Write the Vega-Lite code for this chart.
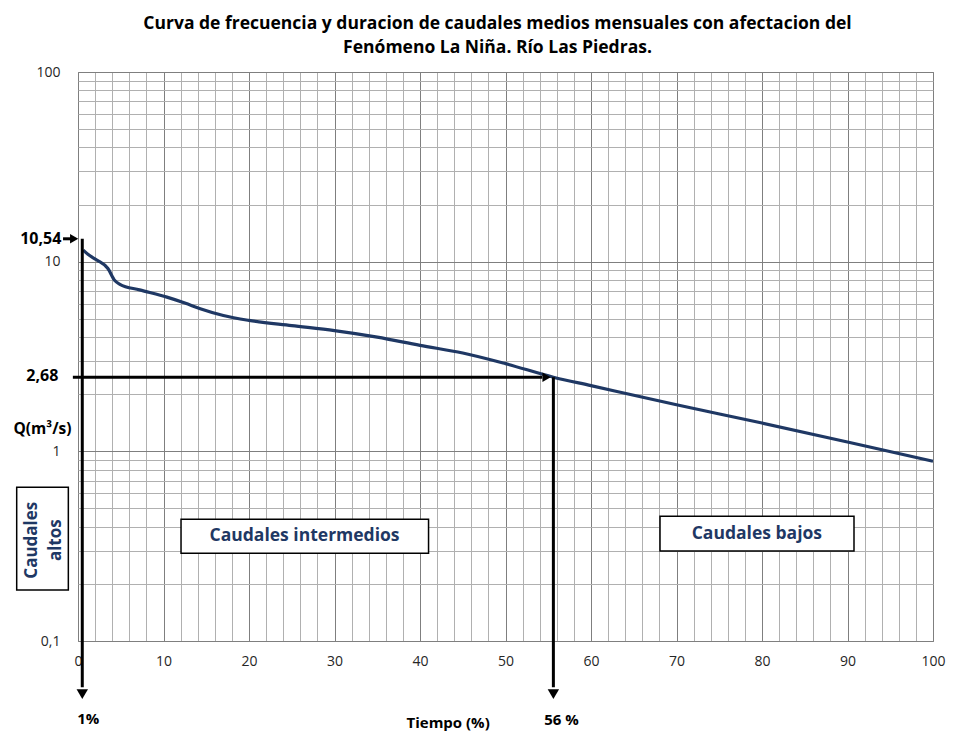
{
  "$schema": "https://vega.github.io/schema/vega-lite/v6.json",
  "width": 855,
  "height": 569,
  "autosize": {"type": "none"},
  "padding": {"left": 78, "top": 72, "right": 42, "bottom": 93},
  "background": "white",
  "title": {
    "text": ["Curva de frecuencia y duracion  de caudales medios mensuales con afectacion del", "Fenómeno La Niña. Río Las Piedras."],
    "font": "Open Sans",
    "fontSize": 17.5,
    "fontWeight": "bold",
    "color": "#000000",
    "anchor": "middle",
    "dx": -8,
    "offset": 9,
    "lineHeight": 24
  },
  "config": {
    "view": {"stroke": "#7f7f7f", "strokeWidth": 1},
    "font": "Open Sans"
  },
  "datasets": {
    "curve": [
      {"x": 0.6, "q": 11.5},
      {"x": 1.2, "q": 10.9},
      {"x": 2.2, "q": 10.2},
      {"x": 3.5, "q": 9.2},
      {"x": 4.3, "q": 7.95},
      {"x": 4.9, "q": 7.6},
      {"x": 7.2, "q": 7.1},
      {"x": 10.4, "q": 6.5},
      {"x": 12.5, "q": 6.05},
      {"x": 14.3, "q": 5.65},
      {"x": 17, "q": 5.2},
      {"x": 20, "q": 4.9},
      {"x": 25, "q": 4.6},
      {"x": 30, "q": 4.33},
      {"x": 35, "q": 4.0},
      {"x": 40, "q": 3.62},
      {"x": 45, "q": 3.3},
      {"x": 50, "q": 2.9},
      {"x": 55.6, "q": 2.46},
      {"x": 60, "q": 2.22},
      {"x": 70, "q": 1.76},
      {"x": 80, "q": 1.41},
      {"x": 90, "q": 1.12},
      {"x": 100, "q": 0.886}
    ],
    "vlines": [
      {"x": 0.5, "q": 13.2, "q2": 0.057},
      {"x": 55.6, "q": 2.46, "q2": 0.057}
    ],
    "hlines": [
      {"x": -1.75, "x2": -0.6, "q": 13.2},
      {"x": -0.6, "x2": 54.3, "q": 2.46}
    ],
    "arrowsDown": [
      {"x": 0.5, "q": 0.0525},
      {"x": 55.6, "q": 0.0525}
    ],
    "arrowsRight": [
      {"x": -0.45, "q": 13.2},
      {"x": 54.8, "q": 2.46}
    ],
    "leftLabels": [
      {"x": -1.95, "q": 13.2, "label": "10,54"},
      {"x": -2.3, "q": 2.5, "label": "2,68"}
    ],
    "bottomLabels": [
      {"x": 1.2, "q": 0.0389, "label": "1%"},
      {"x": 56.55, "q": 0.0385, "label": "56 %"}
    ],
    "boxes": [
      {"x": 12.05, "x2": 41.0, "q": 0.4385, "q2": 0.2904},
      {"x": 68.07, "x2": 90.76, "q": 0.455, "q2": 0.298},
      {"x": -7.17, "x2": -1.13, "q": 0.647, "q2": 0.1855}
    ],
    "boxText": [
      {"x": 26.5, "q": 0.357, "label": "Caudales intermedios"},
      {"x": 79.4, "q": 0.368, "label": "Caudales bajos"}
    ],
    "sideText": [
      {"x": -5.35, "q": 0.34, "label": ["Caudales", "altos"]}
    ]
  },
  "layer": [
    {
      "data": {"name": "curve"},
      "mark": {"type": "line", "color": "#1F3864", "strokeWidth": 3.2, "interpolate": "monotone", "clip": false},
      "encoding": {
        "x": {
          "field": "x", "type": "quantitative",
          "scale": {"domain": [0, 100], "nice": false, "zero": false},
          "axis": {
            "values": [0,2,4,6,8,10,12,14,16,18,20,22,24,26,28,30,32,34,36,38,40,42,44,46,48,50,52,54,56,58,60,62,64,66,68,70,72,74,76,78,80,82,84,86,88,90,92,94,96,98,100],
            "tickCount": 500,
            "format": "d",
            "labelExpr": "datum.value % 10 === 0 ? datum.label : ''",
            "labelOverlap": false,
            "labelFlush": false,
            "labelFont": "Open Sans",
            "labelFontSize": 14,
            "labelColor": "#262626",
            "labelPadding": 13,
            "ticks": false,
            "domain": false,
            "grid": true,
            "gridColor": {"condition": {"test": "datum.value % 10 === 0", "value": "#7f7f7f"}, "value": "#b0b0b0"},
            "gridOpacity": 1,
            "gridWidth": 1,
            "title": "Tiempo (%)",
            "titleFont": "Open Sans",
            "titleFontSize": 15,
            "titleFontWeight": "bold",
            "titleColor": "#000000",
            "titleAnchor": "start",
            "titleX": 328,
            "titleY": 81,
            "titleBaseline": "middle"
          }
        },
        "y": {
          "field": "q", "type": "quantitative",
          "scale": {"type": "log", "domain": [0.1, 100], "nice": false, "zero": false},
          "axis": {
            "values": [0.1,0.2,0.3,0.4,0.5,0.6,0.7,0.8,0.9,1,2,3,4,5,6,7,8,9,10,20,30,40,50,60,70,80,90,100],
            "tickCount": 500,
            "labelExpr": "datum.value === 0.1 ? '0,1' : (datum.value === 1 || datum.value === 10 || datum.value === 100 ? datum.label : '')",
            "labelOverlap": false,
            "labelFlush": false,
            "labelFont": "Open Sans",
            "labelFontSize": 14,
            "labelColor": "#262626",
            "labelPadding": 18,
            "ticks": false,
            "domain": false,
            "grid": true,
            "gridColor": {"condition": {"test": "datum.value === 0.1 || datum.value === 1 || datum.value === 10 || datum.value === 100", "value": "#7f7f7f"}, "value": "#b0b0b0"},
            "gridOpacity": 1,
            "gridWidth": 1,
            "title": "Q(m³/s)",
            "titleFont": "Open Sans",
            "titleFontSize": 15.5,
            "titleFontWeight": "bold",
            "titleColor": "#000000",
            "titleAngle": 0,
            "titleAlign": "left",
            "titleX": -65,
            "titleY": 356,
            "titleBaseline": "middle"
          }
        }
      }
    },
    {
      "data": {"name": "vlines"},
      "mark": {"type": "rule", "color": "#000000", "strokeWidth": 3, "clip": false},
      "encoding": {
        "x": {"field": "x", "type": "quantitative"},
        "y": {"field": "q", "type": "quantitative"},
        "y2": {"field": "q2"}
      }
    },
    {
      "data": {"name": "hlines"},
      "mark": {"type": "rule", "color": "#000000", "strokeWidth": 3, "clip": false},
      "encoding": {
        "x": {"field": "x", "type": "quantitative"},
        "x2": {"field": "x2"},
        "y": {"field": "q", "type": "quantitative"}
      }
    },
    {
      "data": {"name": "arrowsDown"},
      "mark": {"type": "point", "shape": "triangle-down", "filled": true, "color": "#000000", "size": 130, "opacity": 1, "clip": false},
      "encoding": {
        "x": {"field": "x", "type": "quantitative"},
        "y": {"field": "q", "type": "quantitative"}
      }
    },
    {
      "data": {"name": "arrowsRight"},
      "mark": {"type": "point", "shape": "triangle-right", "filled": true, "color": "#000000", "size": 90, "opacity": 1, "clip": false},
      "encoding": {
        "x": {"field": "x", "type": "quantitative"},
        "y": {"field": "q", "type": "quantitative"}
      }
    },
    {
      "data": {"name": "leftLabels"},
      "mark": {"type": "text", "font": "Open Sans", "fontSize": 16, "fontWeight": "bold", "color": "#000000", "baseline": "middle", "align": "right", "clip": false},
      "encoding": {
        "x": {"field": "x", "type": "quantitative"},
        "y": {"field": "q", "type": "quantitative"},
        "text": {"field": "label"}
      }
    },
    {
      "data": {"name": "bottomLabels"},
      "mark": {"type": "text", "font": "Open Sans", "fontSize": 15, "fontWeight": "bold", "color": "#000000", "baseline": "middle", "align": "center", "clip": false},
      "encoding": {
        "x": {"field": "x", "type": "quantitative"},
        "y": {"field": "q", "type": "quantitative"},
        "text": {"field": "label"}
      }
    },
    {
      "data": {"name": "boxes"},
      "mark": {"type": "rect", "fill": "white", "stroke": "#000000", "strokeWidth": 1.5, "clip": false},
      "encoding": {
        "x": {"field": "x", "type": "quantitative"},
        "x2": {"field": "x2"},
        "y": {"field": "q", "type": "quantitative"},
        "y2": {"field": "q2"}
      }
    },
    {
      "data": {"name": "boxText"},
      "mark": {"type": "text", "font": "Open Sans", "fontSize": 17.5, "fontWeight": "bold", "color": "#1F3864", "baseline": "middle", "align": "center", "clip": false},
      "encoding": {
        "x": {"field": "x", "type": "quantitative"},
        "y": {"field": "q", "type": "quantitative"},
        "text": {"field": "label"}
      }
    },
    {
      "data": {"name": "sideText"},
      "mark": {"type": "text", "font": "Open Sans", "fontSize": 17, "fontWeight": "bold", "color": "#1F3864", "baseline": "middle", "align": "center", "angle": 270, "lineHeight": 24, "clip": false},
      "encoding": {
        "x": {"field": "x", "type": "quantitative"},
        "y": {"field": "q", "type": "quantitative"},
        "text": {"field": "label"}
      }
    }
  ]
}
